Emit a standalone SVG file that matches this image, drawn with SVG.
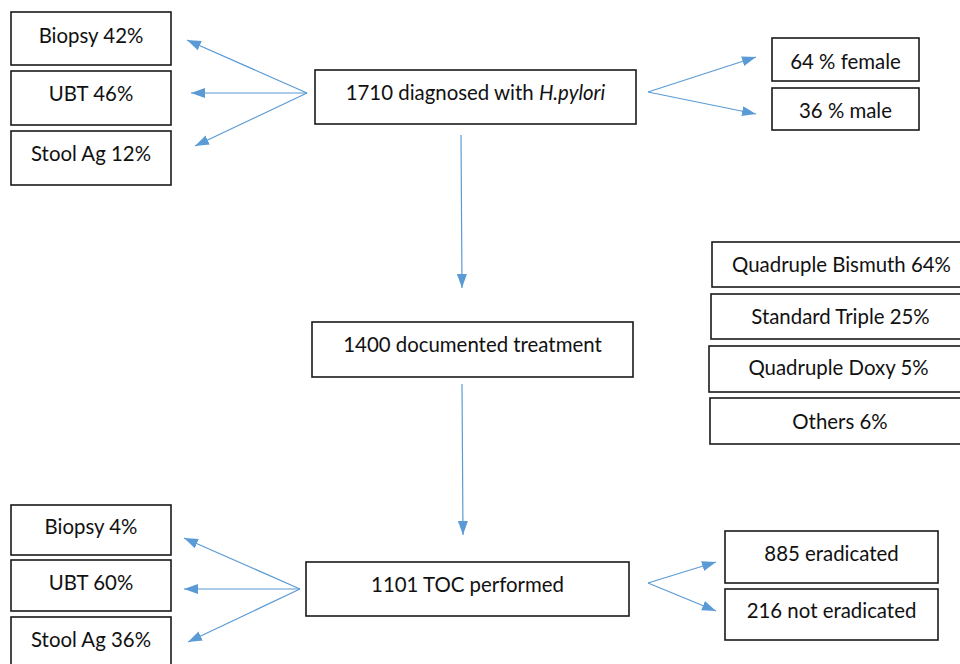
<svg xmlns="http://www.w3.org/2000/svg" width="960" height="664" viewBox="0 0 960 664">
<defs>
<marker id="ah" markerUnits="userSpaceOnUse" markerWidth="16" markerHeight="12" refX="14" refY="5" orient="auto">
<path d="M0,0 L14,5 L0,10 Z" fill="#5B9BD5"/>
</marker>
<style>
.box{fill:#fff;stroke:#1a1a1a;stroke-width:1.6}
.t{font-family:Lato,"Open Sans","Liberation Sans",sans-serif;font-size:20.4px;fill:#111;text-anchor:middle}
.c{stroke:#5B9BD5;stroke-width:1.2;fill:none;marker-end:url(#ah)}
</style>
</defs>
<rect width="960" height="664" fill="#fff"/>
<g id="connectors">
<line class="c" x1="307" y1="93" x2="187" y2="40"/>
<line class="c" x1="307" y1="93" x2="191" y2="93"/>
<line class="c" x1="307" y1="93" x2="195" y2="146"/>
<line class="c" x1="648" y1="92" x2="756" y2="57"/>
<line class="c" x1="648" y1="92" x2="756" y2="114"/>
<line class="c" x1="461" y1="135" x2="462" y2="288"/>
<line class="c" x1="462" y1="384" x2="463" y2="535"/>
<line class="c" x1="300" y1="589" x2="184" y2="538"/>
<line class="c" x1="300" y1="589" x2="184" y2="589"/>
<line class="c" x1="300" y1="589" x2="188" y2="642"/>
<line class="c" x1="648" y1="583" x2="716" y2="562"/>
<line class="c" x1="648" y1="583" x2="716" y2="611"/>
</g>
<g id="n-biopsy1"><rect class="box" x="11" y="12" width="160" height="53"/><text class="t" x="91" y="43">Biopsy 42%</text></g>
<g id="n-ubt1"><rect class="box" x="11" y="71" width="160" height="54"/><text class="t" x="91" y="101">UBT 46%</text></g>
<g id="n-stool1"><rect class="box" x="11" y="131" width="160" height="54"/><text class="t" x="91" y="161">Stool Ag 12%</text></g>
<g id="n-diagnosed"><rect class="box" x="315" y="70" width="321" height="54"/><text class="t" x="475.5" y="100">1710 diagnosed with <tspan font-style="italic">H.pylori</tspan></text></g>
<g id="n-female"><rect class="box" x="772" y="38" width="147" height="43"/><text class="t" x="845.5" y="69">64 % female</text></g>
<g id="n-male"><rect class="box" x="772" y="88" width="147" height="42"/><text class="t" x="845.5" y="118">36 % male</text></g>
<g id="n-treatment"><rect class="box" x="312" y="322" width="321" height="55"/><text class="t" x="472.5" y="352">1400 documented treatment</text></g>
<g id="n-bismuth"><rect class="box" x="712" y="242" width="260" height="45"/><text class="t" x="841.5" y="272">Quadruple Bismuth 64%</text></g>
<g id="n-triple"><rect class="box" x="711" y="294" width="260" height="45"/><text class="t" x="840.5" y="324">Standard Triple 25%</text></g>
<g id="n-doxy"><rect class="box" x="709" y="346" width="260" height="46"/><text class="t" x="838.5" y="375">Quadruple Doxy 5%</text></g>
<g id="n-others"><rect class="box" x="710" y="398" width="260" height="46"/><text class="t" x="840" y="429">Others 6%</text></g>
<g id="n-biopsy2"><rect class="box" x="11" y="505" width="160" height="50"/><text class="t" x="91" y="534">Biopsy 4%</text></g>
<g id="n-ubt2"><rect class="box" x="11" y="560" width="160" height="51"/><text class="t" x="91" y="590">UBT 60%</text></g>
<g id="n-stool2"><rect class="box" x="11" y="617" width="160" height="60"/><text class="t" x="91" y="647">Stool Ag 36%</text></g>
<g id="n-toc"><rect class="box" x="306" y="562" width="323" height="54"/><text class="t" x="467.5" y="592">1101 TOC performed</text></g>
<g id="n-erad"><rect class="box" x="725" y="531" width="213" height="52"/><text class="t" x="831.5" y="561">885 eradicated</text></g>
<g id="n-noterad"><rect class="box" x="725" y="589" width="213" height="51"/><text class="t" x="831.5" y="618">216 not eradicated</text></g>
</svg>
